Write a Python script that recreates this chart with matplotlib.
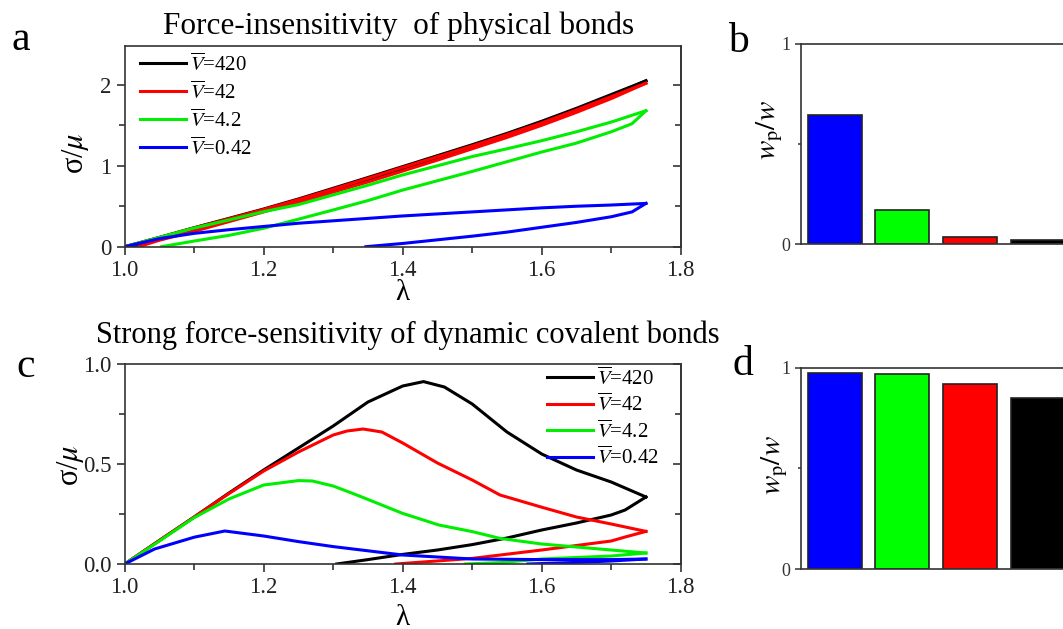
import numpy as np
from matplotlib import pyplot as plt
from matplotlib.ticker import MultipleLocator

plt.rcParams['font.family'] = ['Liberation Serif', 'DejaVu Serif']
plt.rcParams['mathtext.fontset'] = 'stix'

labels = [r'$\overline{V}$=420', r'$\overline{V}$=42', r'$\overline{V}$=4.2', r'$\overline{V}$=0.42']
colors = ['black', '#ff0000', '#00ee00', '#0000ff']

# panel a: loading (up) and unloading (dn) branches
lam_up = [1.0, 1.05, 1.1, 1.15, 1.2, 1.25, 1.3, 1.35, 1.4, 1.45, 1.5, 1.55, 1.6, 1.65, 1.7, 1.75]
a420_up = [0, .115, .235, .35, .466, .59, .722, .855, .99, 1.125, 1.26, 1.40, 1.55, 1.71, 1.88, 2.05]
a42_up = [0, .113, .232, .345, .46, .582, .712, .845, .98, 1.112, 1.245, 1.385, 1.53, 1.69, 1.855, 2.02]
a4_up = [0, .115, .23, .33, .433, .52, .64, .76, .887, 1.0, 1.114, 1.21, 1.31, 1.42, 1.54, 1.68]
a04_up = [0, .1, .165, .21, .25, .29, .32, .35, .38, .405, .43, .455, .48, .50, .515, .535]

lam420_dn = [1.75, 1.7, 1.65, 1.6, 1.55, 1.5, 1.45, 1.4, 1.35, 1.3, 1.25, 1.2, 1.15, 1.1, 1.05, 1.01]
a420_dn = [2.05, 1.86, 1.69, 1.53, 1.38, 1.24, 1.10, .965, .83, .70, .57, .445, .33, .215, .10, 0]
lam42_dn = [1.75, 1.7, 1.65, 1.6, 1.55, 1.5, 1.45, 1.4, 1.35, 1.3, 1.25, 1.2, 1.15, 1.1, 1.05, 1.02]
a42_dn = [2.02, 1.83, 1.66, 1.50, 1.35, 1.21, 1.07, .935, .80, .675, .55, .43, .31, .19, .08, 0]
lam4_dn = [1.75, 1.73, 1.7, 1.65, 1.6, 1.55, 1.5, 1.45, 1.4, 1.35, 1.3, 1.25, 1.2, 1.15, 1.1, 1.053]
a4_dn = [1.68, 1.52, 1.42, 1.28, 1.17, 1.05, .93, .815, .70, .57, .454, .34, .228, .14, .07, 0]
lam04_dn = [1.75, 1.73, 1.7, 1.65, 1.6, 1.55, 1.5, 1.45, 1.4, 1.347]
a04_dn = [.535, .43, .37, .30, .24, .18, .13, .085, .04, 0]

# panel c
lc420_up = [1.0, 1.05, 1.1, 1.15, 1.2, 1.25, 1.3, 1.35, 1.4, 1.43, 1.46, 1.5, 1.55, 1.6, 1.65, 1.7, 1.75]
c420_up = [0, .118, .235, .355, .47, .58, .69, .81, .89, .912, .885, .80, .66, .55, .47, .41, .335]
lc420_dn = [1.75, 1.72, 1.7, 1.65, 1.6, 1.55, 1.5, 1.45, 1.4, 1.35, 1.305]
c420_dn = [.335, .27, .245, .205, .17, .13, .097, .07, .048, .022, 0]
lc42_up = [1.0, 1.05, 1.1, 1.15, 1.2, 1.25, 1.3, 1.32, 1.343, 1.37, 1.4, 1.45, 1.5, 1.54, 1.6, 1.65, 1.7, 1.75]
c42_up = [0, .118, .235, .352, .465, .56, .645, .665, .675, .66, .605, .505, .42, .345, .284, .235, .2, .163]
lc42_dn = [1.75, 1.72, 1.7, 1.6, 1.5, 1.39]
c42_dn = [.163, .135, .115, .07, .028, 0]
lc4_up = [1.0, 1.05, 1.1, 1.15, 1.2, 1.25, 1.27, 1.3, 1.334, 1.4, 1.452, 1.5, 1.54, 1.6, 1.7, 1.75]
c4_up = [0, .115, .232, .325, .395, .417, .415, .39, .345, .253, .195, .162, .128, .10, .07, .055]
lc4_dn = [1.75, 1.7, 1.6, 1.54, 1.49]
c4_dn = [.055, .04, .025, .007, 0]
lc04_up = [1.0, 1.043, 1.1, 1.144, 1.2, 1.25, 1.3, 1.4, 1.5, 1.6, 1.7, 1.75]
c04_up = [0, .075, .134, .165, .14, .112, .087, .045, .025, .022, .022, .025]
lc04_dn = [1.75, 1.7, 1.65, 1.58]
c04_dn = [.025, .015, .008, 0]

# bar panels (order: 0.42, 4.2, 42, 420)
bar_colors = ['#0000ff', '#00ff00', '#ff0000', 'black']
wp_b = [0.646, 0.171, 0.036, 0.02]
wp_d = [0.975, 0.969, 0.917, 0.848]

W, H = 1063, 629
fig = plt.figure(figsize=(W / 100, H / 100), dpi=100)


def px(l, t, r, b):
    return [l / W, 1 - b / H, (r - l) / W, (b - t) / H]


def style_curve_axes(ax, ymaj, ymin):
    ax.set_xlim(1.0, 1.8)
    ax.xaxis.set_major_locator(MultipleLocator(0.2))
    ax.xaxis.set_minor_locator(MultipleLocator(0.1))
    ax.yaxis.set_major_locator(MultipleLocator(ymaj))
    ax.yaxis.set_minor_locator(MultipleLocator(ymin))
    ax.tick_params(which='both', direction='out', top=False, right=False,
                   labelsize=16.5, colors='#222222', width=1.1)
    ax.tick_params(which='major', length=6)
    ax.tick_params(which='minor', length=4)
    for s in ax.spines.values():
        s.set_color('#333333')
        s.set_linewidth(1.2)
    sec = ax.secondary_yaxis('right')
    sec.yaxis.set_major_locator(MultipleLocator(ymaj))
    sec.yaxis.set_minor_locator(MultipleLocator(ymin))
    sec.tick_params(which='both', direction='in', labelright=False, color='#222222', width=1.1)
    sec.tick_params(which='major', length=6)
    sec.tick_params(which='minor', length=4)
    sec.spines['right'].set_color('#333333')
    sec.spines['right'].set_linewidth(1.2)


# ---- panel a
ax_a = fig.add_axes(px(124.7, 46, 680.7, 246.7))
ups = [a420_up, a42_up, a4_up, a04_up]
dns = [(lam420_dn, a420_dn), (lam42_dn, a42_dn), (lam4_dn, a4_dn), (lam04_dn, a04_dn)]
for up, (ld, dn), c, lab in zip(ups, dns, colors, labels):
    ax_a.plot(lam_up, up, color=c, lw=2.2, label=lab)
    ax_a.plot(ld, dn, color=c, lw=2.2)
ax_a.set_ylim(0, 2.48)
style_curve_axes(ax_a, 1, 0.5)
ax_a.legend(loc='upper left', bbox_to_anchor=(0.027, 0.965), frameon=False, fontsize=15,
            handlelength=2.2, handletextpad=0.2, labelspacing=0.27, borderpad=0, borderaxespad=0)
ax_a.set_xlabel('λ', fontsize=21)
ax_a.xaxis.set_label_coords(0.5, -0.23)
ax_a.xaxis.label.set_va('center')
ax_a.set_ylabel(r'σ/$\mu$', fontsize=22)
ax_a.yaxis.set_label_coords(-0.089, 0.467)
ax_a.yaxis.label.set_va('center')

# ---- panel c
ax_c = fig.add_axes(px(124.7, 364, 680.7, 564))
c_sets = [(lc420_up, c420_up, lc420_dn, c420_dn), (lc42_up, c42_up, lc42_dn, c42_dn),
          (lc4_up, c4_up, lc4_dn, c4_dn), (lc04_up, c04_up, lc04_dn, c04_dn)]
for (lu, vu, ld, vd), c, lab in zip(c_sets, colors, labels):
    ax_c.plot(lu, vu, color=c, lw=2.2, label=lab)
    ax_c.plot(ld, vd, color=c, lw=2.2)
ax_c.set_ylim(0, 1.0)
style_curve_axes(ax_c, 0.5, 0.25)
ax_c.yaxis.set_major_formatter(plt.FormatStrFormatter('%.1f'))
ax_c.legend(loc='upper left', bbox_to_anchor=(0.76, 0.985), frameon=False, fontsize=15,
            handlelength=2.2, handletextpad=0.2, labelspacing=0.2, borderpad=0, borderaxespad=0)
ax_c.set_xlabel('λ', fontsize=21)
ax_c.xaxis.set_label_coords(0.5, -0.27)
ax_c.xaxis.label.set_va('center')
ax_c.set_ylabel(r'σ/$\mu$', fontsize=22)
ax_c.yaxis.set_label_coords(-0.098, 0.495)
ax_c.yaxis.label.set_va('center')


# ---- bar panels
def bar_panel(rect, vals, lab_xy):
    ax = fig.add_axes(rect)
    ax.bar(np.arange(len(vals)), vals, width=0.8, color=bar_colors, edgecolor='#222222', linewidth=1.2)
    ax.set_xlim(-0.5, 3.5)
    ax.set_ylim(0, 1)
    ax.set_xticks([])
    ax.yaxis.set_major_locator(MultipleLocator(1))
    ax.yaxis.set_minor_locator(MultipleLocator(0.5))
    ax.tick_params(which='both', direction='out', labelsize=13, colors='#333333', width=1.1)
    ax.tick_params(which='major', length=4)
    ax.tick_params(which='minor', length=2)
    for s in ax.spines.values():
        s.set_color('#333333')
        s.set_linewidth(1.2)
    ax.set_ylabel(r'$w_{\mathrm{p}}/w$', fontsize=21)
    ax.yaxis.set_label_coords(*lab_xy)
    ax.yaxis.label.set_va('center')
    return ax


bar_panel(px(801, 44, 1071.4, 244.3), wp_b, (-0.115, 0.57))
bar_panel(px(801, 367.7, 1071.4, 569), wp_d, (-0.096, 0.517))

# titles and panel letters
fig.text(399 / W, 1 - 26 / H, 'Force-insensitivity  of physical bonds', fontsize=22.5, ha='center', va='center')
fig.text(408 / W, 1 - 335 / H, 'Strong force-sensitivity of dynamic covalent bonds', fontsize=22,
         ha='center', va='center')
for x, y, t in [(11, 50, 'a'), (728, 52, 'b'), (16, 377, 'c'), (732, 375, 'd')]:
    fig.text(x / W, 1 - y / H, t, fontsize=30, ha='left', va='baseline')

fig.savefig('out.png', dpi=100)
